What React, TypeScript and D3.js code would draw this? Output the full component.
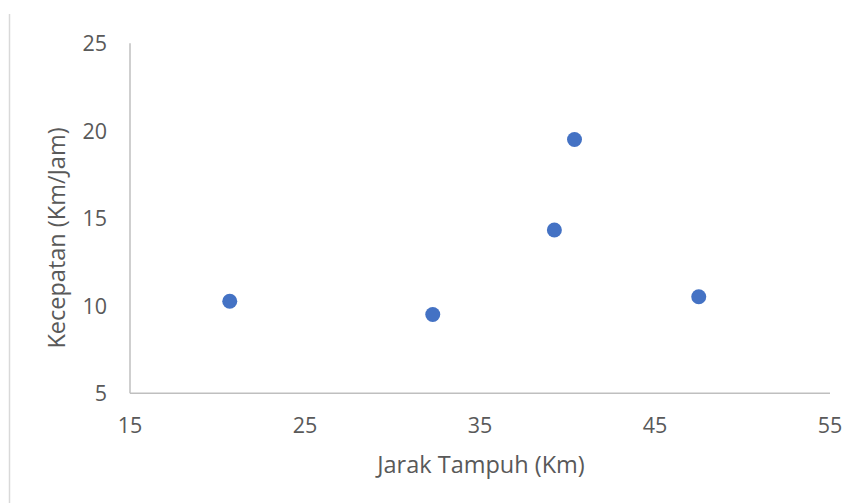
import React from "react";
import * as d3 from "d3";

// Jarak tampuh (km) vs kecepatan (km/jam)
const jarak = [20.7, 32.3, 39.25, 40.4, 47.5];
const kecepatan = [10.26, 9.5, 14.33, 19.5, 10.52];

const xTicks = [15, 25, 35, 45, 55];
const yTicks = [5, 10, 15, 20, 25];

const xTitle = "Jarak Tampuh (Km)";
const yTitle = "Kecepatan (Km/Jam)";

const W = 859;
const H = 503;
const FONT = "'Open Sans', 'Noto Sans', sans-serif";

export default function App() {
  const x = d3.scaleLinear().domain([15, 55]).range([130, 830]);
  const y = d3.scaleLinear().domain([5, 25]).range([393.3, 43.3]);
  const points = jarak.map((v, i) => ({ x: v, y: kecepatan[i] }));

  return (
    <svg
      width={W}
      height={H}
      style={{ position: "absolute", left: 0, top: 0, background: "#fff" }}
    >
      <line x1={9.5} x2={9.5} y1={14} y2={H} stroke="#d9d9d9" strokeWidth={1.5} />

      {/* axes */}
      <line x1={x(15)} x2={x(15)} y1={y(25)} y2={y(5)} stroke="#bfbfbf" strokeWidth={1.5} />
      <line x1={x(15)} x2={x(55)} y1={y(5)} y2={y(5)} stroke="#bfbfbf" strokeWidth={1.5} />

      {yTicks.map((t) => (
        <text
          key={"y" + t}
          x={107}
          y={y(t)}
          dy="0.36em"
          textAnchor="end"
          fontFamily={FONT}
          fontSize={21.5}
          fill="#595959"
        >
          {t}
        </text>
      ))}
      {xTicks.map((t) => (
        <text
          key={"x" + t}
          x={x(t)}
          y={432.5}
          textAnchor="middle"
          fontFamily={FONT}
          fontSize={21.5}
          fill="#595959"
        >
          {t}
        </text>
      ))}

      <text
        x={481}
        y={473}
        textAnchor="middle"
        fontFamily={FONT}
        fontSize={23.5}
        fill="#595959"
      >
        {xTitle}
      </text>
      <text
        transform={`translate(65, 238) rotate(-90)`}
        textAnchor="middle"
        fontFamily={FONT}
        fontSize={23.5}
        fill="#595959"
      >
        {yTitle}
      </text>

      {points.map((p, i) => (
        <circle key={i} cx={x(p.x)} cy={y(p.y)} r={7.5} fill="#4472c4" />
      ))}
    </svg>
  );
}
